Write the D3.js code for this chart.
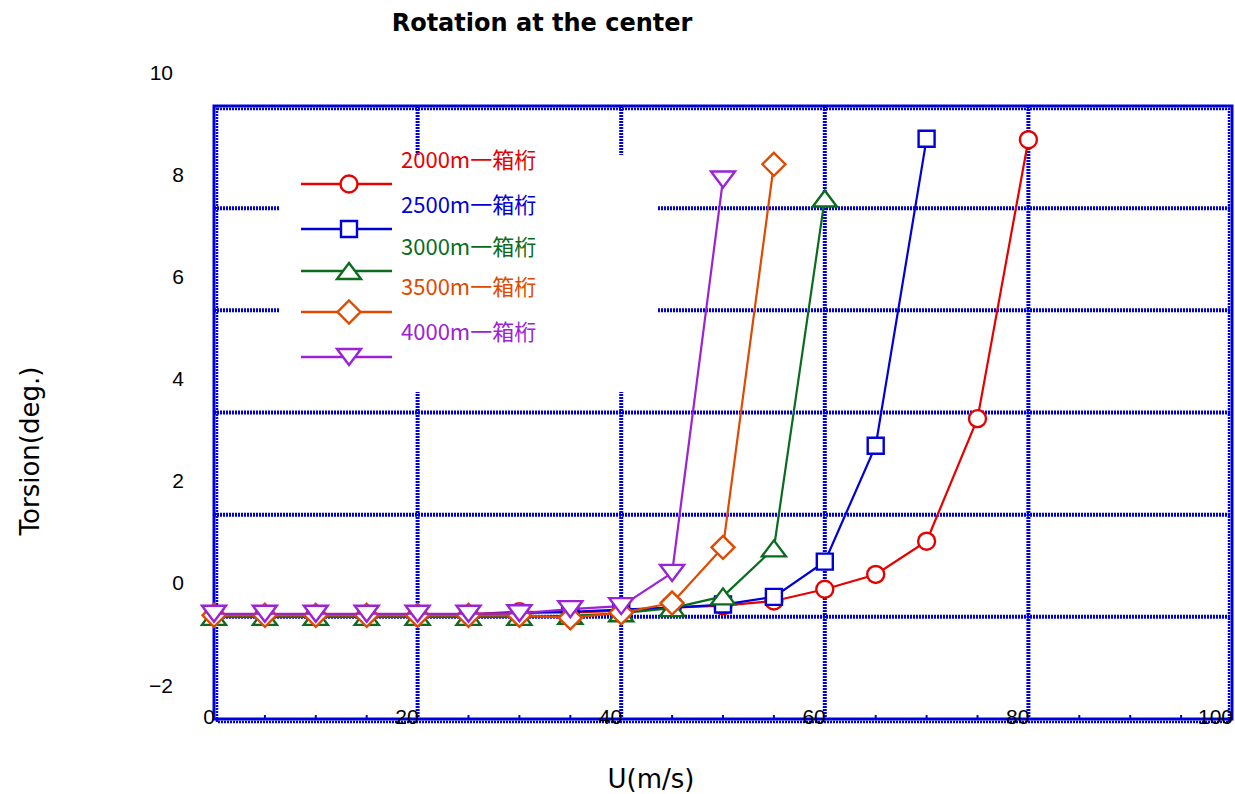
<!DOCTYPE html>
<html>
<head>
<meta charset="utf-8">
<script src="https://cdn.jsdelivr.net/npm/d3@7"></script>
<style>
  body { margin: 0; background: #fff; }
  svg { display: block; font-family: "Liberation Sans", Arial, sans-serif; }
</style>
</head>
<body>
<svg id="chart" width="1235" height="794"></svg>
<script>
// wind speed (m/s) and torsion at the center (deg.)
const speeds = [0, 5, 10, 15, 20, 25, 30, 35, 40, 45, 50, 55, 60, 65, 70, 75, 80];
const torsion2000 = [0.05, 0.05, 0.05, 0.05, 0.05, 0.05, 0.1, 0.08, 0.12, 0.18, 0.22, 0.31, 0.54, 0.83, 1.48, 3.88, 9.34];
const torsion2500 = [0.05, 0.05, 0.05, 0.05, 0.05, 0.05, 0.07, 0.1, 0.14, 0.18, 0.24, 0.39, 1.08, 3.35, 9.36];
const torsion3000 = [0.0, 0.0, 0.0, 0.0, 0.0, 0.0, 0.0, 0.02, 0.07, 0.17, 0.4, 1.34, 8.19];
const torsion3500 = [0.03, 0.03, 0.03, 0.03, 0.03, 0.03, 0.03, -0.02, 0.08, 0.27, 1.36, 8.86];
const torsion4000 = [0.06, 0.06, 0.06, 0.06, 0.06, 0.06, 0.07, 0.15, 0.21, 0.86, 8.56];

const seriesNames = ["2000m一箱桁", "2500m一箱桁", "3000m一箱桁", "3500m一箱桁", "4000m一箱桁"];
const seriesColors = ["#e60000", "#0000d8", "#0b6b1e", "#e04a00", "#9b22d6"];
const seriesMarkers = ["circle", "square", "triangleUp", "diamond", "triangleDown"];
const seriesValues = [torsion2000, torsion2500, torsion3000, torsion3500, torsion4000];

const xTicks = [0, 20, 40, 60, 80, 100];
const yTicks = [-2, 0, 2, 4, 6, 8, 10];

const svg = d3.select("#chart");
const gridBlue = "#0000dd";

const x = d3.scaleLinear().domain([0, 100]).range([214, 1232]);
const y = d3.scaleLinear().domain([-2, 10]).range([719, 106]);

// marker shapes centred on 0,0
function markerPath(type) {
  switch (type) {
    case "circle": return "M-8.5,0A8.5,8.5 0 1,0 8.5,0A8.5,8.5 0 1,0 -8.5,0Z";
    case "square": return "M-8,-8H8V8H-8Z";
    case "triangleUp": return "M0,-8L12,8H-12Z";
    case "triangleDown": return "M-12,-8H12L0,8Z";
    case "diamond": return "M0,-11.5L11.5,0L0,11.5L-11.5,0Z";
  }
}

// dotted grid lines
const grid = svg.append("g");
grid.selectAll(".hgrid")
  .data(yTicks.filter(v => v > -2 && v < 10))
  .join("line")
  .attr("x1", x(0)).attr("x2", x(100))
  .attr("y1", d => y(d)).attr("y2", d => y(d))
  .attr("stroke", gridBlue).attr("stroke-width", 4)
  .attr("stroke-dasharray", "2,1");
grid.selectAll(".vgrid")
  .data(xTicks.filter(v => v > 0 && v < 100))
  .join("line")
  .attr("x1", d => x(d)).attr("x2", d => x(d))
  .attr("y1", y(10)).attr("y2", y(-2))
  .attr("stroke", gridBlue).attr("stroke-width", 4)
  .attr("stroke-dasharray", "2,1");

// frame: solid edge plus dotted inner strip
const frame = svg.append("g");
frame.append("rect")
  .attr("x", x(0)).attr("y", y(10))
  .attr("width", x(100) - x(0)).attr("height", y(-2) - y(10))
  .attr("fill", "none").attr("stroke", gridBlue).attr("stroke-width", 3);
frame.append("rect")
  .attr("x", x(0) + 3).attr("y", y(10) + 3)
  .attr("width", x(100) - x(0) - 6).attr("height", y(-2) - y(10))
  .attr("fill", "none").attr("stroke", gridBlue).attr("stroke-width", 2.5)
  .attr("stroke-dasharray", "2,1");

// minor ticks on the bottom axis
frame.selectAll(".minor")
  .data(d3.range(5, 100, 5).filter(v => v % 20 !== 0))
  .join("line")
  .attr("x1", d => x(d)).attr("x2", d => x(d))
  .attr("y1", y(-2) - 4).attr("y2", y(-2))
  .attr("stroke", gridBlue).attr("stroke-width", 2);

// legend background hides the grid behind it
svg.append("rect")
  .attr("x", 279).attr("y", 155).attr("width", 378).attr("height", 237)
  .attr("fill", "#fff");

// tick labels
svg.selectAll(".ylab")
  .data(yTicks)
  .join("text")
  .attr("x", d => String(d).length > 1 ? 173 : 184)
  .attr("y", d => y(d) - 34)
  .attr("dy", "0.36em")
  .attr("text-anchor", "end")
  .attr("font-size", 21)
  .text(d => d < 0 ? "\u2212" + Math.abs(d) : d);

svg.selectAll(".xlab")
  .data(xTicks)
  .join("text")
  .attr("x", d => x(d) + 1)
  .attr("y", y(-2) + 5)
  .attr("text-anchor", "end")
  .attr("font-size", 21)
  .text(d => d);

// titles
svg.append("text")
  .attr("x", 542).attr("y", 31)
  .attr("text-anchor", "middle")
  .attr("font-family", "'DejaVu Sans', sans-serif")
  .attr("font-size", 24).attr("font-weight", "bold")
  .text("Rotation at the center");

svg.append("text")
  .attr("transform", "translate(39,451) rotate(-90)")
  .attr("text-anchor", "middle")
  .attr("font-family", "'DejaVu Sans', sans-serif")
  .attr("font-size", 26)
  .text("Torsion(deg.)");

svg.append("text")
  .attr("x", 651).attr("y", 788)
  .attr("text-anchor", "middle")
  .attr("font-family", "'DejaVu Sans', sans-serif")
  .attr("font-size", 26)
  .text("U(m/s)");

// series
const line = d3.line().x(d => x(d[0])).y(d => y(d[1]));
seriesValues.forEach((vals, i) => {
  const pts = vals.map((v, j) => [speeds[j], v]);
  const g = svg.append("g");
  g.append("path")
    .attr("d", line(pts))
    .attr("fill", "none")
    .attr("stroke", seriesColors[i])
    .attr("stroke-width", 2.2);
  g.selectAll("path.mk")
    .data(pts)
    .join("path")
    .attr("class", "mk")
    .attr("d", markerPath(seriesMarkers[i]))
    .attr("transform", d => `translate(${x(d[0])},${y(d[1])})`)
    .attr("fill", "#fff")
    .attr("stroke", seriesColors[i])
    .attr("stroke-width", 2.4);
});

// legend
const legendLineY = [184, 229, 271, 312, 357];
const legendTextY = [160, 205, 247, 287, 332];
const legend = svg.append("g");
seriesNames.forEach((name, i) => {
  legend.append("line")
    .attr("x1", 301).attr("x2", 392)
    .attr("y1", legendLineY[i]).attr("y2", legendLineY[i])
    .attr("stroke", seriesColors[i]).attr("stroke-width", 2.4);
  legend.append("path")
    .attr("d", markerPath(seriesMarkers[i]))
    .attr("transform", `translate(349,${legendLineY[i]})`)
    .attr("fill", "#fff")
    .attr("stroke", seriesColors[i]).attr("stroke-width", 2.4);
  legend.append("text")
    .attr("x", 401).attr("y", legendTextY[i])
    .attr("dy", "0.36em")
    .attr("font-family", "'Noto Sans CJK JP', sans-serif")
    .attr("font-size", 22)
    .attr("fill", seriesColors[i])
    .text(name);
});
</script>
</body>
</html>
